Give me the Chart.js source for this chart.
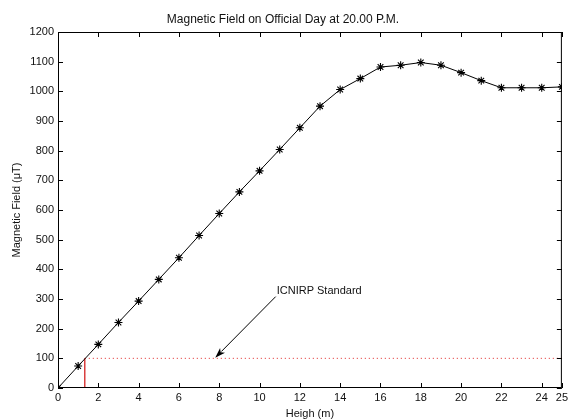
<!DOCTYPE html>
<html>
<head>
<meta charset="utf-8">
<script src="https://cdn.jsdelivr.net/npm/chart.js@4.4.0/dist/chart.umd.min.js"></script>
<style>
  html, body { margin: 0; padding: 0; background: #fff; }
  #wrap { width: 571px; height: 419px; }
</style>
</head>
<body>
<div id="wrap"><canvas id="fieldChart" width="571" height="419"></canvas></div>
<script>
// Height (m) and measured field (uT)
var heights = [0, 1, 2, 3, 4, 5, 6, 7, 8, 9, 10, 11, 12, 13, 14, 15, 16, 17, 18, 19, 20, 21, 22, 23, 24, 25];
var fieldValues = [0, 74, 147, 221, 293, 366, 439, 514, 588, 661, 732, 804, 877, 950, 1006, 1043, 1082, 1088, 1097, 1088, 1063, 1036, 1012, 1012, 1012, 1015];

// ICNIRP limit and where the curve crosses it
var limitValue = 100;
var crossHeight = 1.33;
var xMax = 25;

// annotation: text anchor and arrow [x, y] in data units
var noteText = 'ICNIRP Standard';
var notePos = [10.85, 327];
var arrowFrom = [10.8, 308];
var arrowTo = [7.8, 102];

var xTicks = [0, 2, 4, 6, 8, 10, 12, 14, 16, 18, 20, 22, 24, 25];

var fontFamily = '"Liberation Sans", Arial, sans-serif';
Chart.defaults.font.family = fontFamily;
Chart.defaults.font.size = 11;
Chart.defaults.color = '#111';

var points = heights.map(function(h, i) {
  return { x: h, y: fieldValues[i] };
});

// box round the plot with inward tick marks, plus the arrow and its label
var matlabAxes = {
  id: 'matlabAxes',
  afterDatasetsDraw: function(chart) {
    var ctx = chart.ctx;
    var area = chart.chartArea;
    var xs = chart.scales.x;
    var ys = chart.scales.y;
    var len = 5;

    ctx.save();
    ctx.strokeStyle = '#000';
    ctx.lineWidth = 1;
    ctx.strokeRect(area.left + 0.5, area.top + 0.5, area.right - area.left - 1, area.bottom - area.top - 1);

    ctx.beginPath();
    xs.ticks.forEach(function(t) {
      var px = Math.round(xs.getPixelForValue(t.value)) + 0.5;
      ctx.moveTo(px, area.bottom);
      ctx.lineTo(px, area.bottom - len);
      ctx.moveTo(px, area.top);
      ctx.lineTo(px, area.top + len);
    });
    ys.ticks.forEach(function(t) {
      var py = Math.round(ys.getPixelForValue(t.value)) + 0.5;
      ctx.moveTo(area.left, py);
      ctx.lineTo(area.left + len, py);
      ctx.moveTo(area.right, py);
      ctx.lineTo(area.right - len, py);
    });
    ctx.stroke();

    // arrow
    var x1 = xs.getPixelForValue(arrowFrom[0]);
    var y1 = ys.getPixelForValue(arrowFrom[1]);
    var x2 = xs.getPixelForValue(arrowTo[0]);
    var y2 = ys.getPixelForValue(arrowTo[1]);
    var ang = Math.atan2(y2 - y1, x2 - x1);
    var head = 11;
    var spread = 0.32;
    ctx.beginPath();
    ctx.moveTo(x1, y1);
    ctx.lineTo(x2 - Math.cos(ang) * head * 0.8, y2 - Math.sin(ang) * head * 0.8);
    ctx.stroke();
    ctx.beginPath();
    ctx.moveTo(x2, y2);
    ctx.lineTo(x2 - head * Math.cos(ang - spread), y2 - head * Math.sin(ang - spread));
    ctx.lineTo(x2 - head * 0.7 * Math.cos(ang), y2 - head * 0.7 * Math.sin(ang));
    ctx.lineTo(x2 - head * Math.cos(ang + spread), y2 - head * Math.sin(ang + spread));
    ctx.closePath();
    ctx.fillStyle = '#000';
    ctx.fill();

    ctx.fillStyle = '#111';
    ctx.font = '11px ' + fontFamily;
    ctx.textAlign = 'left';
    ctx.textBaseline = 'middle';
    ctx.fillText(noteText, xs.getPixelForValue(notePos[0]), ys.getPixelForValue(notePos[1]));
    ctx.restore();
  }
};

var ctx = document.getElementById('fieldChart').getContext('2d');
var fieldChart = new Chart(ctx, {
  type: 'scatter',
  data: {
    datasets: [{
      label: 'Magnetic field',
      data: points,
      showLine: true,
      borderColor: '#000',
      borderWidth: 1,
      pointStyle: 'star',
      pointRadius: 4,
      pointBorderColor: '#000',
      pointBorderWidth: 1.1,
      order: 1
    }, {
      label: 'Limit',
      data: [{ x: crossHeight, y: limitValue }, { x: xMax, y: limitValue }],
      showLine: true,
      borderColor: '#e02020',
      borderWidth: 1,
      borderDash: [1, 3],
      pointRadius: 0,
      order: 2
    }, {
      label: 'Crossing',
      data: [{ x: crossHeight, y: 0 }, { x: crossHeight, y: limitValue }],
      showLine: true,
      borderColor: '#d01010',
      borderWidth: 1.2,
      pointRadius: 0,
      order: 2
    }]
  },
  options: {
    responsive: false,
    animation: false,
    layout: { padding: { top: 0, right: 5, bottom: 0, left: 0 } },
    plugins: {
      legend: { display: false },
      tooltip: { enabled: false },
      title: {
        display: true,
        text: 'Magnetic Field on Official Day at 20.00 P.M.',
        color: '#111',
        font: { size: 12, weight: 'normal' },
        padding: { top: 12, bottom: 5.6 }
      }
    },
    scales: {
      x: {
        type: 'linear',
        min: 0,
        max: xMax,
        grid: { display: false, drawTicks: false },
        border: { display: false },
        afterBuildTicks: function(scale) {
          scale.ticks = xTicks.map(function(v) { return { value: v }; });
        },
        afterFit: function(scale) { scale.height = 31; },
        ticks: { padding: 3, maxRotation: 0, autoSkip: false },
        title: {
          display: true,
          text: 'Heigh (m)',
          font: { size: 11 },
          padding: { top: 0, bottom: -2 }
        }
      },
      y: {
        min: 0,
        max: 1200,
        grid: { display: false, drawTicks: false },
        border: { display: false },
        afterFit: function(scale) { scale.width = 58; },
        ticks: {
          stepSize: 100,
          padding: 4,
          callback: function(v) { return String(v); }
        },
        title: {
          display: true,
          text: 'Magnetic Field (\u03bcT)',
          font: { size: 11 },
          padding: { top: 10, bottom: 0 }
        }
      }
    }
  },
  plugins: [matlabAxes]
});
</script>
</body>
</html>
